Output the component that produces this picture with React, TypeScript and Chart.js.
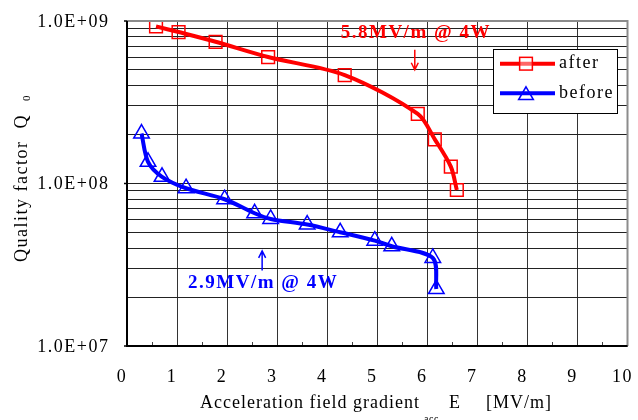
import React, { useEffect, useRef } from "react";
import { Chart, registerables } from "chart.js";

Chart.register(...registerables);

// ---- data ----
const X_TICKS = [0, 1, 2, 3, 4, 5, 6, 7, 8, 9, 10];
const Y_LABEL_TICKS = [1e7, 1e8, 1e9];
const Y_GRID_MULTIPLES = [1, 2, 3, 4, 5, 6, 7, 8, 9];
const Y_DECADES = [1e7, 1e8];

const AFTER_E = [0.58, 1.03, 1.77, 2.82, 4.35, 5.81, 6.15, 6.47, 6.59];
const AFTER_Q = [9.26e8, 8.55e8, 7.45e8, 6.0e8, 4.65e8, 2.68e8, 1.87e8, 1.27e8, 9.12e7];

const BEFORE_E = [0.29, 0.42, 0.7, 1.18, 1.95, 2.55, 2.87, 3.6, 4.26, 4.95, 5.29, 6.11, 6.18];
const BEFORE_Q = [2.03e8, 1.36e8, 1.1e8, 9.35e7, 8.0e7, 6.56e7, 6.05e7, 5.59e7, 5.01e7, 4.45e7, 4.11e7, 3.48e7, 2.24e7];

const SERIES_NAMES = ["after", "before"];
const RED = "#ff0000";
const BLUE = "#0000ff";
const FONT = "'Liberation Serif', 'DejaVu Serif', serif";

function fmtExp(v: number) {
  const e = Math.round(Math.log10(v));
  return "1.0E+" + String(e).padStart(2, "0");
}

function drawTriangle(ctx: CanvasRenderingContext2D, x: number, y: number, r: number) {
  ctx.beginPath();
  ctx.moveTo(x, y - r);
  ctx.lineTo(x + r * Math.sin((2 * Math.PI) / 3), y - r * Math.cos((2 * Math.PI) / 3));
  ctx.lineTo(x + r * Math.sin((4 * Math.PI) / 3), y - r * Math.cos((4 * Math.PI) / 3));
  ctx.closePath();
  ctx.stroke();
}

const overlayPlugin = {
  id: "overlay",
  afterDraw(chart: any) {
    const ctx: CanvasRenderingContext2D = chart.ctx;
    const xs = chart.scales.x;
    const ys = chart.scales.y;
    const a = chart.chartArea;
    ctx.save();

    // half-unit ticks on bottom axis
    ctx.strokeStyle = "#444";
    ctx.lineWidth = 1;
    for (let i = 0; i < X_TICKS.length - 1; i++) {
      const px = Math.round(xs.getPixelForValue(X_TICKS[i] + 0.5)) + 0.5;
      ctx.beginPath();
      ctx.moveTo(px, a.bottom);
      ctx.lineTo(px, a.bottom - 4);
      ctx.stroke();
    }

    // borders
    ctx.strokeStyle = "#8c8c8c";
    ctx.lineWidth = 2;
    ctx.beginPath();
    ctx.moveTo(a.left, a.top);
    ctx.lineTo(a.right, a.top);
    ctx.lineTo(a.right, a.bottom);
    ctx.stroke();
    ctx.strokeStyle = "#000";
    ctx.lineWidth = 2;
    ctx.beginPath();
    ctx.moveTo(a.left, a.top);
    ctx.lineTo(a.left, a.bottom);
    ctx.lineTo(a.right, a.bottom);
    ctx.stroke();

    // left small ticks at decades
    ctx.lineWidth = 1.5;
    for (const v of Y_LABEL_TICKS) {
      const py = ys.getPixelForValue(v);
      ctx.beginPath();
      ctx.moveTo(a.left - 3, py);
      ctx.lineTo(a.left, py);
      ctx.stroke();
    }

    (ctx as any).letterSpacing = "1.5px";
    ctx.fillStyle = "#000";
    ctx.font = `18px ${FONT}`;
    // y labels
    ctx.textAlign = "right";
    ctx.textBaseline = "middle";
    for (const v of Y_LABEL_TICKS) {
      ctx.fillText(fmtExp(v), 109.5, ys.getPixelForValue(v) + 1);
    }
    // x labels
    ctx.textAlign = "center";
    for (const v of X_TICKS) {
      ctx.fillText(String(v), xs.getPixelForValue(v) - 5, 377);
    }

    // x title
    ctx.textAlign = "left";
    (ctx as any).letterSpacing = "1px";
    ctx.fillText("Acceleration field gradient", 200, 403);
    ctx.fillText("E", 449, 403);
    ctx.fillText("[MV/m]", 486, 403);
    ctx.font = `10px ${FONT}`;
    (ctx as any).letterSpacing = "0.5px";
    ctx.textBaseline = "top";
    ctx.fillText("acc", 424, 414);

    // y title (rotated)
    ctx.save();
    ctx.translate(27, 262);
    ctx.rotate(-Math.PI / 2);
    ctx.font = `18px ${FONT}`;
    (ctx as any).letterSpacing = "1.5px";
    ctx.textBaseline = "alphabetic";
    ctx.textAlign = "left";
    ctx.fillText("Quality factor  Q", 0, 0);
    ctx.font = `11px ${FONT}`;
    (ctx as any).letterSpacing = "0px";
    ctx.fillText("0", 161, 3);
    ctx.restore();

    // annotations
    const ann = (text: string, color: string, xv: number, yv: number, tipV: number, tailV: number) => {
      const px = xs.getPixelForValue(xv);
      ctx.fillStyle = color;
      ctx.strokeStyle = color;
      ctx.font = `bold 19px ${FONT}`;
      (ctx as any).letterSpacing = "1.5px";
      ctx.textAlign = "center";
      ctx.textBaseline = "middle";
      ctx.fillText(text, px + 1, ys.getPixelForValue(yv));
      const tip = ys.getPixelForValue(tipV);
      const tail = ys.getPixelForValue(tailV);
      const dir = tip > tail ? 1 : -1;
      ctx.lineWidth = 1.5;
      ctx.beginPath();
      ctx.moveTo(px, tail);
      ctx.lineTo(px, tip);
      ctx.moveTo(px - 3.5, tip - dir * 7);
      ctx.lineTo(px, tip);
      ctx.lineTo(px + 3.5, tip - dir * 7);
      ctx.stroke();
    };
    ann("5.8MV/m @ 4W", RED, 5.75, 8.43e8, 5.01e8, 6.65e8);
    ann("2.9MV/m @ 4W", BLUE, 2.7, 2.45e7, 3.85e7, 2.92e7);

    // legend
    ctx.fillStyle = "#fff";
    ctx.fillRect(493.5, 49.5, 124, 64);
    ctx.strokeStyle = "#000";
    ctx.lineWidth = 1;
    ctx.strokeRect(493.5, 49.5, 124, 64);
    const rows = [63.7, 93.3];
    const colors = [RED, BLUE];
    for (let i = 0; i < 2; i++) {
      const y = rows[i];
      ctx.strokeStyle = colors[i];
      ctx.lineWidth = 4;
      ctx.beginPath();
      ctx.moveTo(500, y);
      ctx.lineTo(555, y);
      ctx.stroke();
      ctx.lineWidth = 1.5;
      if (i === 0) {
        const s = 9 * Math.SQRT1_2;
        ctx.fillStyle = "rgba(255,255,255,0.4)";
        ctx.fillRect(526 - s, y - s, 2 * s, 2 * s);
        ctx.strokeRect(526 - s, y - s, 2 * s, 2 * s);
      } else {
        ctx.fillStyle = "#fff";
        drawTriangle(ctx, 526, y + 2, 8.5);
      }
      ctx.fillStyle = "#000";
      ctx.font = `18px ${FONT}`;
      (ctx as any).letterSpacing = "1.5px";
      ctx.textAlign = "left";
      ctx.textBaseline = "middle";
      ctx.fillText(SERIES_NAMES[i], 559, y);
    }

    ctx.restore();
  },
};

export default function App() {
  const ref = useRef<HTMLCanvasElement | null>(null);
  useEffect(() => {
    if (!ref.current) return;
    const gridTicks: { value: number }[] = [];
    for (const d of Y_DECADES) for (const m of Y_GRID_MULTIPLES) gridTicks.push({ value: d * m });
    gridTicks.push({ value: 1e9 });

    const chart = new Chart(ref.current, {
      type: "line",
      data: {
        datasets: [
          {
            label: SERIES_NAMES[0],
            data: AFTER_E.map((x, i) => ({ x, y: AFTER_Q[i] })),
            borderColor: RED,
            borderWidth: 4,
            pointStyle: "rect",
            pointRadius: 9,
            pointBorderWidth: 1.5,
            pointBorderColor: RED,
            pointBackgroundColor: "rgba(0,0,0,0)",
            tension: 0.3,
            fill: false,
          },
          {
            label: SERIES_NAMES[1],
            data: BEFORE_E.map((x, i) => ({ x, y: BEFORE_Q[i] })),
            borderColor: BLUE,
            borderWidth: 4,
            pointStyle: "triangle",
            pointRadius: 9,
            pointBorderWidth: 1.5,
            pointBorderColor: BLUE,
            pointBackgroundColor: "rgba(0,0,0,0)",
            tension: 0.3,
            fill: false,
          },
        ],
      },
      options: {
        responsive: false,
        animation: false,
        devicePixelRatio: 1,
        layout: { padding: { left: 127, top: 21, right: 7, bottom: 74 } },
        plugins: { legend: { display: false }, tooltip: { enabled: false }, title: { display: false } },
        elements: { line: { capBezierPoints: true } },
        scales: {
          x: {
            type: "linear",
            min: 0,
            max: 10,
            ticks: { display: false, stepSize: 1 },
            grid: { color: "#333", lineWidth: 1, drawTicks: false },
            border: { display: false },
            afterFit: (s: any) => {
              s.height = 0;
            },
          },
          y: {
            type: "logarithmic",
            min: 1e7,
            max: 1e9,
            ticks: { display: false, autoSkip: false },
            grid: { color: "#222", lineWidth: 1, drawTicks: false },
            border: { display: false },
            afterBuildTicks: (s: any) => {
              s.ticks = gridTicks.map((t) => ({ value: t.value }));
            },
            afterFit: (s: any) => {
              s.width = 0;
            },
          },
        },
      } as any,
      plugins: [overlayPlugin],
    });
    return () => chart.destroy();
  }, []);
  return (
    <div style={{ position: "fixed", left: 0, top: 0, width: 638, height: 420, background: "#fff" }}>
      <canvas ref={ref} width={638} height={420} />
    </div>
  );
}
